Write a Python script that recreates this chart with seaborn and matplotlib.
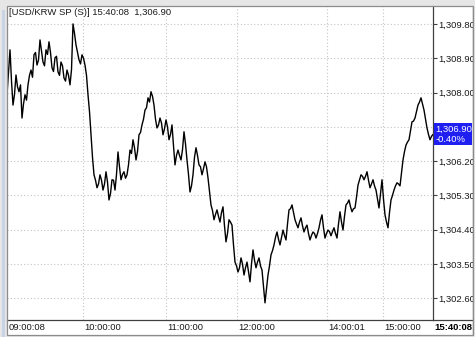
import matplotlib
matplotlib.use("Agg")
import matplotlib.pyplot as plt
import matplotlib.transforms as mtransforms
from matplotlib.patches import Rectangle
from matplotlib.lines import Line2D
import seaborn as sns
import pandas as pd

# ---- data (one reading every ~1.5 px) ----
prices = [
    1307.94, 1308.55, 1309.12, 1308.30, 1307.67, 1307.95, 1308.46, 1308.15, 1308.02, 1308.20,
    1307.33, 1307.70, 1307.94, 1307.80, 1308.20, 1308.45, 1308.59, 1308.40, 1308.99, 1309.05,
    1308.72, 1308.85, 1309.38, 1309.10, 1308.80, 1308.70, 1309.12, 1309.00, 1309.33, 1309.05,
    1308.65, 1308.55, 1308.91, 1308.95, 1308.54, 1308.45, 1308.80, 1308.70, 1308.38, 1308.30,
    1308.59, 1308.45, 1308.20, 1308.60, 1309.80, 1309.55, 1309.25, 1309.05, 1308.86, 1308.75,
    1308.99, 1308.90, 1308.72, 1308.45, 1307.94, 1307.50, 1306.89, 1306.30, 1305.84, 1305.70,
    1305.50, 1305.60, 1305.84, 1305.70, 1305.44, 1305.60, 1305.92, 1305.65, 1305.18, 1305.35,
    1305.71, 1305.70, 1305.44, 1305.85, 1306.44, 1306.05, 1305.71, 1305.85, 1305.92, 1305.75,
    1305.84, 1306.10, 1306.49, 1306.40, 1306.76, 1306.55, 1306.23, 1306.45, 1306.89, 1306.95,
    1307.15, 1307.30, 1307.54, 1307.60, 1307.86, 1307.75, 1308.02, 1307.90, 1307.67, 1307.30,
    1307.07, 1307.15, 1307.33, 1307.20, 1306.89, 1307.05, 1307.28, 1307.10, 1306.76, 1306.90,
    1307.15, 1306.60, 1306.10, 1306.35, 1306.49, 1306.35, 1306.23, 1306.50, 1306.97, 1306.65,
    1306.23, 1305.85, 1305.39, 1305.55, 1305.84, 1306.30, 1306.55, 1306.35, 1306.10, 1306.05,
    1305.84, 1306.00, 1306.18, 1306.05, 1305.76, 1305.40, 1305.05, 1304.90, 1304.66, 1304.80,
    1304.92, 1304.75, 1304.60, 1304.85, 1305.00, 1304.50, 1304.08, 1304.30, 1304.66, 1304.60,
    1304.52, 1304.00, 1303.55, 1303.45, 1303.29, 1303.40, 1303.66, 1303.50, 1303.21, 1303.40,
    1303.55, 1303.30, 1303.03, 1303.50, 1303.87, 1303.60, 1303.40, 1303.55, 1303.66, 1303.45,
    1303.34, 1302.90, 1302.48, 1302.85, 1303.21, 1303.45, 1303.74, 1303.85, 1304.00, 1304.20,
    1304.34, 1304.15, 1304.00, 1304.20, 1304.39, 1304.25, 1304.13, 1304.55, 1304.92, 1304.95,
    1305.05, 1304.85, 1304.66, 1304.55, 1304.45, 1304.60, 1304.71, 1304.50, 1304.34, 1304.45,
    1304.52, 1304.30, 1304.13, 1304.25, 1304.34, 1304.30, 1304.18, 1304.30, 1304.45, 1304.65,
    1304.79, 1304.45, 1304.18, 1304.30, 1304.39, 1304.35, 1304.24, 1304.35, 1304.45, 1304.30,
    1304.18, 1304.55, 1304.87, 1304.60, 1304.39, 1304.75, 1305.05, 1305.10, 1305.18, 1305.00,
    1304.87, 1304.95, 1304.97, 1305.25, 1305.57, 1305.70, 1305.84, 1305.80, 1305.71, 1305.80,
    1305.92, 1305.70, 1305.50, 1305.60, 1305.71, 1305.55, 1305.44, 1305.20, 1304.97, 1305.35,
    1305.71, 1305.20, 1304.79, 1304.60, 1304.45, 1304.85, 1305.18, 1305.30, 1305.44, 1305.55,
    1305.63, 1305.60, 1305.55, 1305.90, 1306.23, 1306.45, 1306.62, 1306.70, 1306.76, 1307.00,
    1307.23, 1307.25, 1307.33, 1307.50, 1307.67, 1307.75, 1307.86, 1307.70, 1307.54, 1307.30,
    1307.07, 1306.90, 1306.76, 1306.85, 1306.90,
]
time_labels = ["09:00:08", "10:00:00", "11:00:00", "12:00:00", "14:00:01", "15:00:00"]
time_tick_index = [0, 50.67, 106, 153.33, 213.33, 250.67]
last_time = "15:40:08"
price_ticks = [1302.6, 1303.5, 1304.4, 1305.3, 1306.2, 1307.1, 1308.0, 1308.9, 1309.8]
last_price = 1306.90
change_pct = -0.40
title = "[USD/KRW SP (S)] 15:40:08  1,306.90"

# ---- figure ----
W, H = 475, 337
sns.set_theme(style="white")
plt.rcParams["font.family"] = ["Liberation Sans", "DejaVu Sans"]
FS = 6.8
TXT = "#1a1a1a"


def fx(x):
    return x / W


def fy(y):
    return 1 - y / H


fig = plt.figure(figsize=(W / 100, H / 100), dpi=100)
fig.patch.set_facecolor("#e6e6e6")

# white panel
fig.add_artist(Rectangle((fx(7), fy(335)), fx(465), 329 / H, transform=fig.transFigure,
                         facecolor="white", edgecolor="none", zorder=-1))
# pale blue strip on the far left
fig.add_artist(Rectangle((fx(1.5), fy(337)), fx(3), 327 / H, transform=fig.transFigure,
                         facecolor="#c9d3e6", edgecolor="none", zorder=-1))

ax = fig.add_axes([fx(7), fy(320), fx(426), 314 / H])
ax.set_facecolor("white")

df = pd.DataFrame({"idx": range(len(prices)), "price": prices})
sns.lineplot(data=df, x="idx", y="price", ax=ax, color="black", lw=1.0)

ax.set_xlim(0, len(prices) - 1)
ax.set_ylim(1302.03, 1310.27)
ax.set_xlabel("")
ax.set_ylabel("")

ax.yaxis.tick_right()
ax.set_yticks(price_ticks)
# the 1,307.10 label sits under the current-price box, so it is not shown
ax.set_yticklabels(["" if abs(v - 1307.1) < 1e-6 else f"{v:,.2f}" for v in price_ticks])
ax.tick_params(axis="y", which="both", direction="out", length=3, width=0.8,
               color="#404040", pad=1, labelsize=FS, labelcolor=TXT,
               right=True, left=False, labelright=True, labelleft=False)

ax.set_xticks(time_tick_index)
ax.set_xticklabels(time_labels)
ax.tick_params(axis="x", length=0, pad=2, labelsize=FS, labelcolor=TXT)
off = mtransforms.ScaledTranslation(1.5 / 100, 0, fig.dpi_scale_trans)
for lab in ax.get_xticklabels():
    lab.set_ha("left")
    lab.set_transform(lab.get_transform() + off)

ax.grid(True, color="#c4c4c4", ls=(0, (1, 2)), lw=0.8)
for s in ["left", "top"]:
    ax.spines[s].set_visible(False)
for s in ["right", "bottom"]:
    ax.spines[s].set_visible(True)
    ax.spines[s].set_color("#404040")
    ax.spines[s].set_linewidth(0.9)

# title
fig.text(fx(9), fy(12.5), title, ha="left", va="center", fontsize=FS, color=TXT)

# bottom separator under the price scale
fig.add_artist(Line2D([fx(433), fx(472)], [fy(320), fy(320)], transform=fig.transFigure,
                      color="#404040", lw=0.9, zorder=3))

# last time label (bold)
fig.text(fx(434.5), fy(327.5), last_time, ha="left", va="center", fontsize=FS,
         fontweight="bold", color="black", zorder=4)

# current price box
fig.add_artist(Rectangle((fx(434), fy(145)), fx(38), 22 / H, transform=fig.transFigure,
                         facecolor="#1f1ff2", edgecolor="none", zorder=5))
fig.text(fx(435.5), fy(129), f"{last_price:,.2f}", ha="left", va="center",
         fontsize=FS, color="white", zorder=6)
fig.text(fx(435.5), fy(139.5), f"{change_pct:.2f}%", ha="left", va="center",
         fontsize=FS, color="white", zorder=6)

# outer border / clipping of overflow on the right
fig.add_artist(Rectangle((fx(472.5), 0), fx(2.5), 1, transform=fig.transFigure,
                         facecolor="#e6e6e6", edgecolor="none", zorder=7))
fig.add_artist(Rectangle((fx(7), fy(335)), fx(465.5), 329 / H, transform=fig.transFigure,
                         facecolor="none", edgecolor="#8c8c8c", lw=0.9, zorder=8))

fig.savefig("out.png", dpi=100)
